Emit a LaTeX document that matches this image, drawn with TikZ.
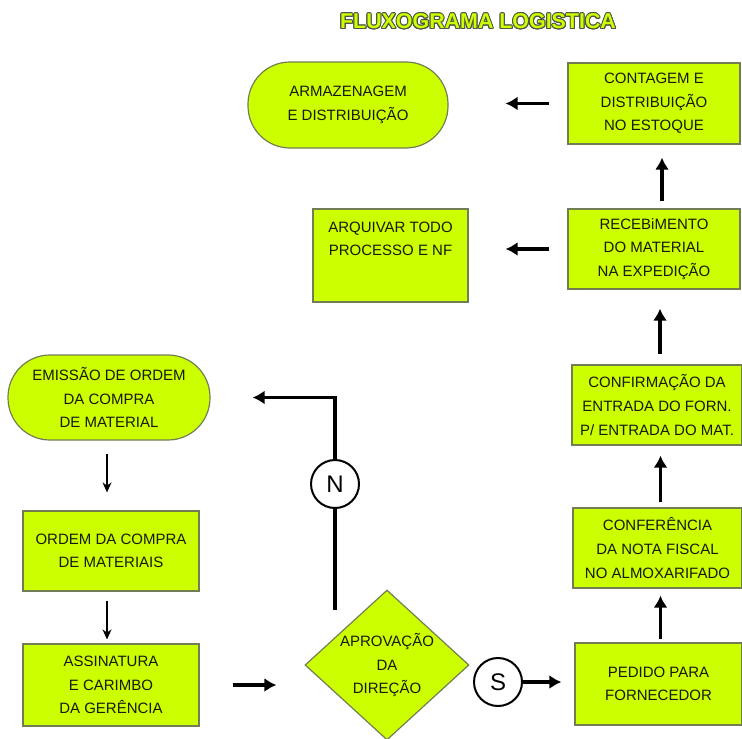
\documentclass[tikz,border=0pt]{standalone}
\usepackage{fontspec}
\setmainfont{Liberation Sans}
\usepackage{xcolor}
\usepackage{contour}
\usepackage{tikz}
\usetikzlibrary{shapes.geometric,arrows.meta}
\definecolor{tinta}{RGB}{25,25,15}
\definecolor{verdecx}{RGB}{204,255,0}
\definecolor{bordacx}{RGB}{115,125,85}
\definecolor{contorno}{RGB}{80,85,70}
\contourlength{0.5pt}

\begin{document}
\begin{tikzpicture}[x=0.5pt, y=-0.5pt, font=\fontsize{7.5}{11.8}\selectfont,
    every node/.style={align=center, text=tinta},
    bloco/.style={draw=bordacx, fill=verdecx, line width=0.6pt, inner sep=2pt},
    terminal/.style={bloco, rounded corners=21pt},
    decisao/.style={bloco, diamond, aspect=1.1, inner sep=0pt, minimum width=82pt, minimum height=75pt},
    conector/.style={circle, draw=black, line width=1pt, fill=white, minimum size=24pt, inner sep=0pt,
      text=black, font=\fontsize{12}{12}\selectfont},
    linha/.style={line width=1.6pt, black},
    seta/.style={linha, -{Latex[length=6pt,width=7pt]}},
    setafina/.style={line width=0.8pt, black, -{Stealth[length=5pt,width=4.5pt]}}]
  \useasboundingbox (0,0) rectangle (742,738);
  \node[text=verdecx, font=\fontsize{10.7}{12}\selectfont\bfseries] (titulo) at (478,22)
    {\contour{contorno}{FLUXOGRAMA LOGISTICA}};
  % coluna da direita
  \node[bloco, minimum width=86pt, minimum height=40.5pt] (cont) at (654,103.5) {CONTAGEM E\\DISTRIBUIÇÃO\\NO ESTOQUE};
  \node[bloco, minimum width=86pt, minimum height=40pt] (rec) at (654,249) {RECEBiMENTO\\DO MATERIAL\\NA EXPEDIÇÃO};
  \node[bloco, minimum width=85pt, minimum height=40pt] (cfm) at (657,405) {CONFIRMAÇÃO DA\\ENTRADA DO FORN.\\P/ ENTRADA DO MAT.};
  \node[bloco, minimum width=84.5pt, minimum height=40pt] (conf) at (657.5,548) {CONFERÊNCIA\\DA NOTA FISCAL\\NO ALMOXARIFADO};
  \node[bloco, minimum width=83.5pt, minimum height=41pt] (ped) at (658.5,684) {PEDIDO PARA\\FORNECEDOR};
  % meio
  \node[terminal, minimum width=100pt, minimum height=43pt] (arm) at (348,105) {ARMAZENAGEM\\E DISTRIBUIÇÃO};
  \node[bloco, minimum width=77.5pt, minimum height=46.5pt] (arq) at (390.5,255.5) {ARQUIVAR TODO\\PROCESSO E NF\\[5pt]~};
  \node[decisao] (apr) at (387,665) {APROVAÇÃO\\DA\\DIREÇÃO};
  \node[conector] (s) at (498,682) {S};
  \node[conector] (n) at (335,484) {N};
  \coordinate (nbase) at (335,610);
  % coluna da esquerda
  \node[terminal, minimum width=101pt, minimum height=42.5pt] (emi) at (109,397.5) {EMISSÃO DE ORDEM\\DA COMPRA\\DE MATERIAL};
  \node[bloco, minimum width=88pt, minimum height=40pt] (ord) at (111,551) {ORDEM DA COMPRA\\DE MATERIAIS};
  \node[bloco, minimum width=88pt, minimum height=41pt] (ass) at (111,685) {ASSINATURA\\E CARIMBO\\DA GERÊNCIA};
  % setas
  \draw[setafina, shorten <=6.5pt, shorten >=9pt] ([xshift=-1pt]emi.south) -- ([xshift=-1pt]emi.south |- ord.north);
  \draw[setafina, shorten <=4.5pt, shorten >=2pt] ([xshift=-2pt]ord.south) -- ([xshift=-2pt]ord.south |- ass.north);
  \draw[seta, shorten <=16.5pt, shorten >=14pt] (ass.east) -- (ass.east -| apr.west);
  \draw[linha] (n) -- (nbase);
  \draw[seta, shorten >=21pt] (n) |- (emi.east);
  \draw[seta, shorten >=6.5pt] (s.east) -- (s.east -| ped.west);
  \draw[seta, shorten <=1.5pt, shorten >=3.5pt] ([xshift=1pt]ped.north) -- ([xshift=1pt]ped.north |- conf.south);
  \draw[seta, shorten <=2.5pt, shorten >=5pt] ([xshift=1.5pt]conf.north) -- ([xshift=1.5pt]conf.north |- cfm.south);
  \draw[seta, shorten <=5pt, shorten >=9.5pt] ([xshift=1.5pt]cfm.north) -- ([xshift=1.5pt]cfm.north |- rec.south);
  \draw[seta, shorten <=3.5pt, shorten >=6.5pt] ([xshift=4pt]rec.north) -- ([xshift=4pt]rec.north |- cont.south);
  \draw[seta, shorten <=9pt, shorten >=18.5pt] (rec.west) -- (rec.west -| arq.east);
  \draw[seta, shorten <=9pt, shorten >=28.5pt] (cont.west) -- (cont.west -| arm.east);
\end{tikzpicture}
\end{document}
